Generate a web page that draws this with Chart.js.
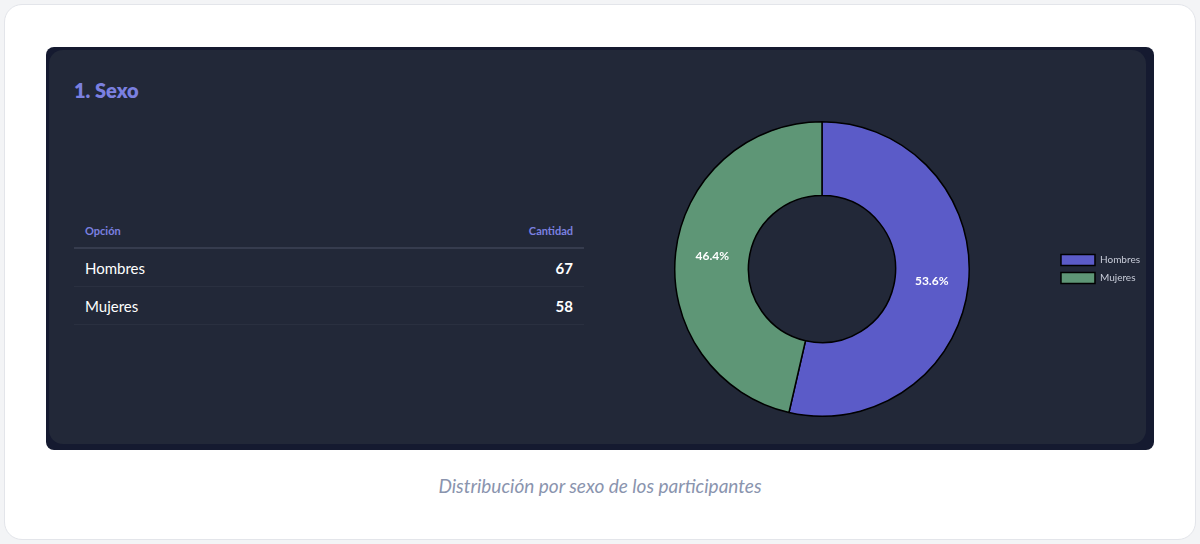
<!DOCTYPE html>
<html>
<head>
<meta charset="utf-8">
<script src="https://cdn.jsdelivr.net/npm/chart.js@4"></script>
<style>
  body { margin: 0; background: #f3f4f6; font-family: Lato, "Noto Sans", sans-serif; }
  .card { position: absolute; left: 4px; top: 4px; width: 1190px; height: 534px; background: #fff; border: 1px solid #e3e5ea; border-radius: 18px; }
  .frame { position: absolute; left: 46px; top: 47px; width: 1108px; height: 403px; background: #151a30; border-radius: 8px; }
  .panel { position: absolute; left: 49px; top: 50px; width: 1097px; height: 394px; background: #222838; border-radius: 14px; }
  h2 { position: absolute; left: 74px; top: 78px; margin: 0; font-size: 20px; font-weight: 800; color: #7b80e0; }
  table { position: absolute; left: 74px; top: 220px; width: 510px; border-collapse: collapse; }
  th { font-size: 11px; font-weight: 700; color: #7b80e0; text-align: left; padding: 4px 11px 10px; border-bottom: 2px solid #363c4e; }
  td { font-size: 15px; color: #fff; padding: 0 11px; height: 37px; border-bottom: 1px solid #2a3040; }
  .r { text-align: right; }
  td.r { font-weight: 700; }
  .wrap { position: absolute; left: 590px; top: 121px; width: 560px; height: 296px; }
  .cap { position: absolute; left: 0; top: 474px; width: 1200px; text-align: center; font-style: italic; font-size: 19px; color: #8a94ae; }
</style>
</head>
<body>
<div class="card"></div>
<div class="frame"></div>
<div class="panel"></div>
<h2>1. Sexo</h2>
<table id="tbl">
  <thead><tr><th>Opción</th><th class="r">Cantidad</th></tr></thead>
  <tbody></tbody>
</table>
<div class="wrap"><canvas id="chart"></canvas></div>
<div class="cap">Distribución por sexo de los participantes</div>
<script>
const categories = ["Hombres", "Mujeres"];
const counts = [67, 58];
const colors = ["#5b5bc8", "#5e9676"];

const tbody = document.querySelector("#tbl tbody");
categories.forEach((c, i) => {
  tbody.insertAdjacentHTML("beforeend", `<tr><td>${c}</td><td class="r">${counts[i]}</td></tr>`);
});

// percentage labels on each slice
const pctLabels = {
  id: "pctLabels",
  afterDatasetsDraw(chart) {
    const ctx = chart.ctx;
    const total = counts.reduce((a, b) => a + b, 0);
    chart.getDatasetMeta(0).data.forEach((arc, i) => {
      const p = arc.tooltipPosition();
      ctx.save();
      ctx.fillStyle = "#fff";
      ctx.font = "bold 12px Lato, sans-serif";
      ctx.textAlign = "center";
      ctx.textBaseline = "middle";
      ctx.fillText((counts[i] / total * 100).toFixed(1) + "%", p.x, p.y);
      ctx.restore();
    });
  }
};

new Chart(document.getElementById("chart"), {
  type: "doughnut",
  data: {
    labels: categories,
    datasets: [{ data: counts, backgroundColor: colors, borderColor: "#000", borderWidth: 1.5 }]
  },
  options: {
    responsive: true,
    maintainAspectRatio: false,
    animation: false,
    cutout: "50%",
    plugins: {
      legend: {
        position: "right",
        labels: { color: "#c8ccd8", boxWidth: 34, boxHeight: 11, font: { size: 10, family: "Lato" }, padding: 7 }
      },
      tooltip: { enabled: false }
    }
  },
  plugins: [pctLabels]
});
</script>
</body>
</html>
